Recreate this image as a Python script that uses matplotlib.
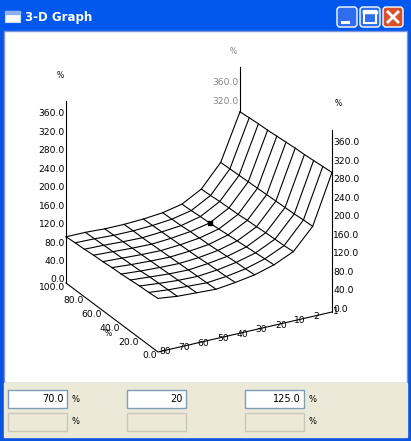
import matplotlib
matplotlib.use("Agg")
import matplotlib.pyplot as plt
from matplotlib.patches import Rectangle, FancyBboxPatch

# ---- data ----
u_values = [0, 10, 20, 30, 40, 50, 60, 70, 80, 90, 100]          # % axis
v_labels = ["80", "70", "60", "50", "40", "30", "20", "10", "2", "1"]
z_ticks = [0, 40, 80, 120, 160, 200, 240, 280, 320, 360]
u_ticks = [0, 20, 40, 60, 80, 100]
back_ticks = [320, 360]
z_rows = [
    [116, 111, 109, 107, 112, 119, 131, 150, 195, 302],
    [114, 110, 108, 106, 110, 117, 129, 148, 194, 300],
    [113, 109, 106, 105, 109, 116, 127, 147, 192, 298],
    [111, 108, 105, 104, 108, 114, 125, 146, 191, 296],
    [109, 106, 104, 103, 106, 112, 123, 144, 190, 295],
    [108, 105, 103, 102, 105, 110, 121, 143, 189, 293],
    [106, 104, 102, 101, 104, 109, 119, 141, 188, 291],
    [105, 103, 101, 100, 103, 108, 117, 140, 187, 289],
    [103, 102, 100, 99, 102, 106, 116, 139, 186, 288],
    [102, 101, 99, 99, 101, 105, 114, 137, 185, 286],
    [100, 100, 98, 98, 100, 104, 113, 136, 184, 284],
]
marker_u, marker_v = 70, "20"
box_values = ["70.0", "20", "125.0"]

# ---- projection (pixel coordinates) ----
O = (158.0, 352.0)
UX, UY = -92.0, -69.0
VX, VY = 174.0, -40.0
ZS = 0.462
nv = len(v_labels)

def proj(u, j, z):
    x = O[0] + UX * u / 100 + VX * j / (nv - 1)
    y = O[1] + UY * u / 100 + VY * j / (nv - 1) - z * ZS
    return x, y

W, H = 411, 441
fig = plt.figure(figsize=(W / 100, H / 100), dpi=100)
ax = fig.add_axes([0, 0, 1, 1])
ax.set_xlim(0, W)
ax.set_ylim(H, 0)
ax.axis("off")

# window chrome
ax.add_patch(Rectangle((0, 0), W, H, color="#0A54E0", zorder=0))
ax.add_patch(Rectangle((0, 0), W, 31, color="#0058EE", zorder=0))
ax.add_patch(Rectangle((4, 31), W - 8, 352, facecolor="white", edgecolor="#7A96DF", lw=1, zorder=0))
ax.add_patch(Rectangle((4, 383), W - 8, 54, color="#ECE9D8", zorder=0))
ax.add_patch(Rectangle((5, 11), 15, 11, facecolor="white", edgecolor="#C8D8F8", lw=0.8, zorder=1))
ax.add_patch(Rectangle((5, 11), 15, 3, color="#8FB0F0", zorder=1))
ax.text(25, 17, "3-D Graph", color="white", fontsize=8.5, fontweight="bold", va="center", ha="left")
for x0, col in [(337, "#2F6CF0"), (360, "#2F6CF0"), (383, "#D9512C")]:
    ax.add_patch(FancyBboxPatch((x0, 7), 20, 20, boxstyle="round,pad=0,rounding_size=3",
                                facecolor=col, edgecolor="white", lw=1, zorder=1))
ax.plot([342, 348], [22, 22], color="white", lw=2.2, zorder=2)
ax.add_patch(Rectangle((364, 11), 12, 12, fill=False, edgecolor="white", lw=1.5, zorder=2))
ax.plot([364, 376], [12, 12], color="white", lw=2.5, zorder=2)
ax.plot([388, 398], [12, 22], color="white", lw=2, zorder=2)
ax.plot([388, 398], [22, 12], color="white", lw=2, zorder=2)

fs = 6.6
lc = dict(color="black", lw=0.8, zorder=3)

# back axis: visible only above the surface corner
bx, _ = proj(100, nv - 1, 0)
top_y = proj(100, nv - 1, z_rows[-1][-1])[1]
ax.plot([bx, bx], [top_y, proj(100, nv - 1, 380)[1]], **lc)
for t in back_ticks:
    x, y = proj(100, nv - 1, t)
    ax.text(x - 1, y + 6, f"{t:.1f}", color="#888888", fontsize=fs, ha="right", va="center")
ax.text(bx - 7, 52, "%", color="#888888", fontsize=5.5, ha="center", va="center")

# wireframe
for i, u in enumerate(u_values):
    pts = [proj(u, j, z_rows[i][j]) for j in range(nv)]
    ax.plot([p[0] for p in pts], [p[1] for p in pts], **lc)
for j in range(nv):
    pts = [proj(u, j, z_rows[i][j]) for i, u in enumerate(u_values)]
    ax.plot([p[0] for p in pts], [p[1] for p in pts], **lc)

# marker
mi = u_values.index(marker_u); mj = v_labels.index(marker_v)
mx, my = proj(marker_u, mj, z_rows[mi][mj])
ax.plot(mx, my, "s", color="black", ms=3.5, zorder=5)

# left vertical axis
lx, ly = proj(100, 0, 0)
ax.plot([lx, lx], [ly, ly - 395 * ZS], **lc)
for t in z_ticks:
    x, y = proj(100, 0, t)
    ax.text(x - 1, y - 3, f"{t:.1f}", fontsize=fs, ha="right", va="center")
ax.text(60, 76, "%", fontsize=5.5, ha="center", va="center")

# right vertical axis
rx, ry = proj(0, nv - 1, 0)
ax.plot([rx, rx], [ry, ry - 395 * ZS], **lc)
for t in z_ticks:
    x, y = proj(0, nv - 1, t)
    ax.text(x + 1, y - 3, f"{t:.1f}", fontsize=fs, ha="left", va="center")
ax.text(338, 103, "%", fontsize=5.5, ha="center", va="center")

# base axes
ax.plot([lx, O[0], rx], [ly, O[1], ry], **lc)
for t in u_ticks:
    x, y = proj(t, 0, 0)
    ax.text(x - 1, y + 4, f"{t:.1f}", fontsize=fs, ha="right", va="center")
ax.text(108, 334, "%", fontsize=5.5, ha="center", va="center")
for j, lab in enumerate(v_labels):
    x, y = proj(0, j, 0)
    ax.text(x + 1, y, lab, fontsize=fs, ha="left", va="center")

# bottom boxes
for k, x0 in enumerate([8, 127, 245]):
    ax.add_patch(Rectangle((x0, 390), 59, 18, facecolor="white", edgecolor="#7F9DB9", lw=1, zorder=2))
    ax.text(x0 + 56, 399, box_values[k], fontsize=7, ha="right", va="center", zorder=3)
    ax.add_patch(Rectangle((x0, 413), 59, 18, facecolor="#ECE9D8", edgecolor="#C9C7BA", lw=1, zorder=2))
for x0 in [75, 312]:
    ax.text(x0, 400, "%", fontsize=6, ha="center", va="center")
    ax.text(x0, 422, "%", fontsize=6, ha="center", va="center")

fig.savefig("out.png", dpi=100)
